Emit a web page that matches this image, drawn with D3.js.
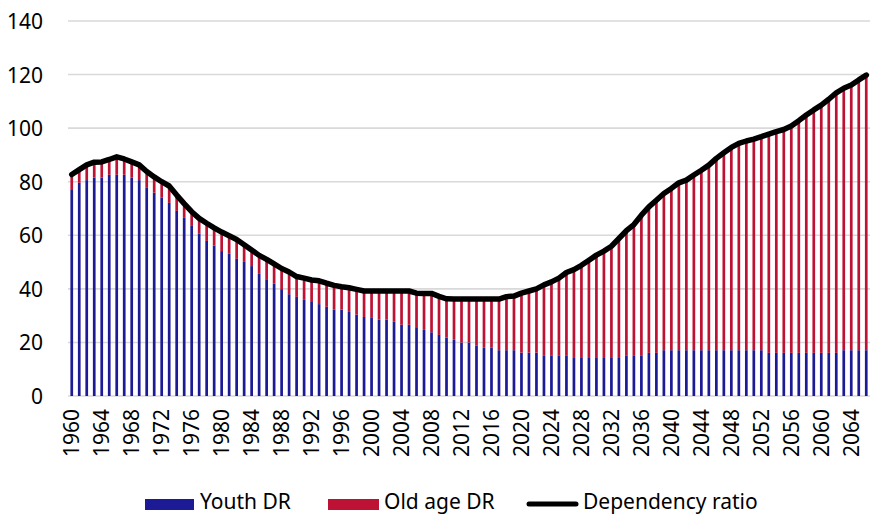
<!DOCTYPE html>
<html>
<head>
<meta charset="utf-8">
<script src="https://cdn.jsdelivr.net/npm/d3@7"></script>
<style>
    body { margin: 0; background: #fff; }
    text { font-family: "Noto Sans", sans-serif; fill: #000; }
</style>
</head>
<body>
<svg id="mySvg"></svg>
<script>
// years 1960 - 2066
let years = d3.range(1960, 2067);

let youthDR = [
    76.9, 79.6, 80.6, 81.5, 81.5, 82.6, 82.6, 82.6, 81.5, 80.6,
    77.7, 75.9, 74.0, 72.1, 69.1, 66.5, 63.5, 60.7, 57.9, 56.1,
    54.1, 53.1, 51.2, 50.3, 48.5, 45.6, 43.6, 41.9, 39.9, 38.0,
    37.0, 36.1, 35.1, 34.3, 33.3, 32.3, 32.3, 31.4, 30.4, 29.5,
    29.4, 28.5, 28.5, 27.7, 26.6, 26.6, 25.7, 24.7, 23.8, 22.8,
    21.8, 21.0, 20.0, 20.0, 18.9, 18.0, 18.0, 17.1, 17.1, 17.1,
    16.2, 16.2, 16.2, 15.2, 15.2, 15.2, 15.2, 14.2, 14.2, 14.2,
    14.2, 14.2, 14.2, 14.2, 15.2, 15.2, 15.2, 16.1, 16.1, 17.1,
    17.1, 17.1, 17.1, 17.1, 17.1, 17.1, 17.1, 17.1, 17.1, 17.1,
    17.1, 17.1, 17.1, 16.1, 16.1, 16.1, 16.1, 16.1, 16.1, 16.1,
    16.1, 16.1, 16.1, 17.1, 17.1, 17.1, 17.1
];

let oldAgeDR = [
    5.8, 4.9, 5.7, 5.8, 5.9, 5.7, 6.7, 5.9, 5.9, 5.7,
    6.1, 5.9, 6.0, 6.3, 5.9, 5.3, 5.3, 5.6, 6.6, 6.7,
    7.1, 6.7, 7.2, 6.2, 6.0, 6.9, 7.4, 7.4, 7.7, 8.3,
    7.6, 7.9, 8.2, 8.7, 8.8, 9.0, 8.5, 9.0, 9.4, 9.7,
    9.8, 10.7, 10.7, 11.5, 12.6, 12.6, 12.7, 13.6, 14.5, 14.4,
    14.5, 15.2, 16.2, 16.2, 17.3, 18.2, 18.2, 19.1, 20.0, 20.2,
    22.2, 23.0, 23.8, 26.3, 27.4, 28.8, 30.9, 33.0, 34.6, 36.5,
    38.4, 39.9, 41.7, 44.6, 46.5, 48.8, 52.3, 54.5, 57.0, 58.5,
    60.4, 62.5, 63.5, 65.4, 67.2, 69.1, 71.6, 73.7, 75.7, 77.2,
    78.1, 78.8, 79.7, 81.7, 82.6, 83.4, 84.7, 86.7, 88.8, 90.7,
    92.5, 94.7, 97.1, 97.8, 99.0, 100.9, 102.7
];

let dependencyRatio = [
    82.7, 84.5, 86.3, 87.3, 87.4, 88.3, 89.3, 88.5, 87.4, 86.3,
    83.8, 81.8, 80.0, 78.4, 75.0, 71.8, 68.8, 66.3, 64.5, 62.8,
    61.2, 59.8, 58.4, 56.5, 54.5, 52.5, 51.0, 49.3, 47.6, 46.3,
    44.6, 44.0, 43.3, 43.0, 42.1, 41.3, 40.8, 40.4, 39.8, 39.2,
    39.2, 39.2, 39.2, 39.2, 39.2, 39.2, 38.4, 38.3, 38.3, 37.2,
    36.3, 36.2, 36.2, 36.2, 36.2, 36.2, 36.2, 36.2, 37.1, 37.3,
    38.4, 39.2, 40.0, 41.5, 42.6, 44.0, 46.1, 47.2, 48.8, 50.7,
    52.6, 54.1, 55.9, 58.8, 61.7, 64.0, 67.5, 70.6, 73.1, 75.6,
    77.5, 79.6, 80.6, 82.5, 84.3, 86.2, 88.7, 90.8, 92.8, 94.3,
    95.2, 95.9, 96.8, 97.8, 98.7, 99.5, 100.8, 102.8, 104.9, 106.8,
    108.6, 110.8, 113.2, 114.9, 116.1, 118.0, 119.8
];

let yTicks = [0, 20, 40, 60, 80, 100, 120, 140];
let xTicks = d3.range(1960, 2065, 4);

let seriesNames = ["Youth DR", "Old age DR", "Dependency ratio"];
let colors = {
    youth: "#1c1a94",
    old: "#bd1234",
    line: "#000000",
    grid: "#d9d9d9"
};

let svgWidth = 870;
let svgHeight = 515;
let margin = { top: 21, right: 0, bottom: 119, left: 68 };
let plotWidth = svgWidth - margin.left - margin.right;
let plotHeight = svgHeight - margin.top - margin.bottom;

let svg = d3.select("#mySvg")
    .attr("width", svgWidth)
    .attr("height", svgHeight);

let table = years.map(function (y, i) {
    return { year: y, youth: youthDR[i], old: oldAgeDR[i], total: dependencyRatio[i] };
});

let xScale = d3.scaleBand()
    .domain(years)
    .range([margin.left, margin.left + plotWidth])
    .paddingInner(0.64)
    .paddingOuter(0.32);

let yScale = d3.scaleLinear()
    .domain([0, 140])
    .range([margin.top + plotHeight, margin.top]);

// gridlines
svg.append("g")
    .selectAll("line")
    .data(yTicks)
    .enter()
    .append("line")
    .attr("x1", margin.left)
    .attr("x2", margin.left + plotWidth)
    .attr("y1", function (d) { return yScale(d) })
    .attr("y2", function (d) { return yScale(d) })
    .attr("stroke", colors.grid)
    .attr("stroke-width", 1.6);

// y axis, labels only
let yAxis = d3.axisLeft(yScale)
    .tickValues(yTicks)
    .tickSize(0)
    .tickPadding(0);

svg.append("g")
    .attr("class", "y axis")
    .attr("transform", "translate(43,0)")
    .call(yAxis)
    .call(function (g) { g.select(".domain").remove() })
    .selectAll("text")
    .attr("font-size", "21px")
    .attr("font-family", "'Noto Sans', sans-serif")
    .attr("fill", "#000")
    .attr("dy", "0.36em");

let stack = d3.stack()
    .keys(["youth", "old"])
    .order(d3.stackOrderNone)
    .offset(d3.stackOffsetNone);

let layers = svg.selectAll(".layer")
    .data(stack(table))
    .enter()
    .append("g")
    .attr("class", "layer")
    .attr("fill", function (d) { return d.key === "youth" ? colors.youth : colors.old });

layers.selectAll("rect")
    .data(function (d) { return d })
    .enter()
    .append("rect")
    .attr("x", function (d) { return xScale(d.data.year) })
    .attr("width", xScale.bandwidth())
    .attr("y", function (d) { return yScale(d[1]) })
    .attr("height", function (d) { return yScale(d[0]) - yScale(d[1]) });

// total line
let line = d3.line()
    .x(function (d) { return xScale(d.year) + xScale.bandwidth() / 2 })
    .y(function (d) { return yScale(d.total) });

svg.append("path")
    .datum(table)
    .attr("d", line)
    .attr("fill", "none")
    .attr("stroke", colors.line)
    .attr("stroke-width", 5.5)
    .attr("stroke-linejoin", "round")
    .attr("stroke-linecap", "round");

// x axis, rotated year labels
let xAxis = d3.axisBottom(xScale)
    .tickValues(xTicks)
    .tickSize(0)
    .tickPadding(0);

svg.append("g")
    .attr("class", "x axis")
    .attr("transform", "translate(0," + (yScale(0) + 13) + ")")
    .call(xAxis)
    .call(function (g) { g.select(".domain").remove() })
    .selectAll("text")
    .attr("font-size", "21px")
    .attr("font-family", "'Noto Sans', sans-serif")
    .attr("fill", "#000")
    .attr("text-anchor", "end")
    .attr("transform", "rotate(-90)")
    .attr("x", 0)
    .attr("y", 0)
    .attr("dx", 0)
    .attr("dy", "0.36em");

// legend
let legend = svg.append("g")
    .attr("class", "legend");

legend.append("rect")
    .attr("x", 145).attr("y", 499)
    .attr("width", 49).attr("height", 11)
    .attr("fill", colors.youth);

legend.append("text")
    .attr("x", 200).attr("y", 509)
    .attr("font-size", "21px")
    .text(seriesNames[0]);

legend.append("rect")
    .attr("x", 328).attr("y", 499)
    .attr("width", 51).attr("height", 11)
    .attr("fill", colors.old);

legend.append("text")
    .attr("x", 384).attr("y", 509)
    .attr("font-size", "21px")
    .text(seriesNames[1]);

legend.append("line")
    .attr("x1", 529).attr("x2", 576)
    .attr("y1", 504).attr("y2", 504)
    .attr("stroke", colors.line)
    .attr("stroke-width", 5)
    .attr("stroke-linecap", "round");

legend.append("text")
    .attr("x", 583).attr("y", 509)
    .attr("font-size", "21px")
    .text(seriesNames[2]);
</script>
</body>
</html>
